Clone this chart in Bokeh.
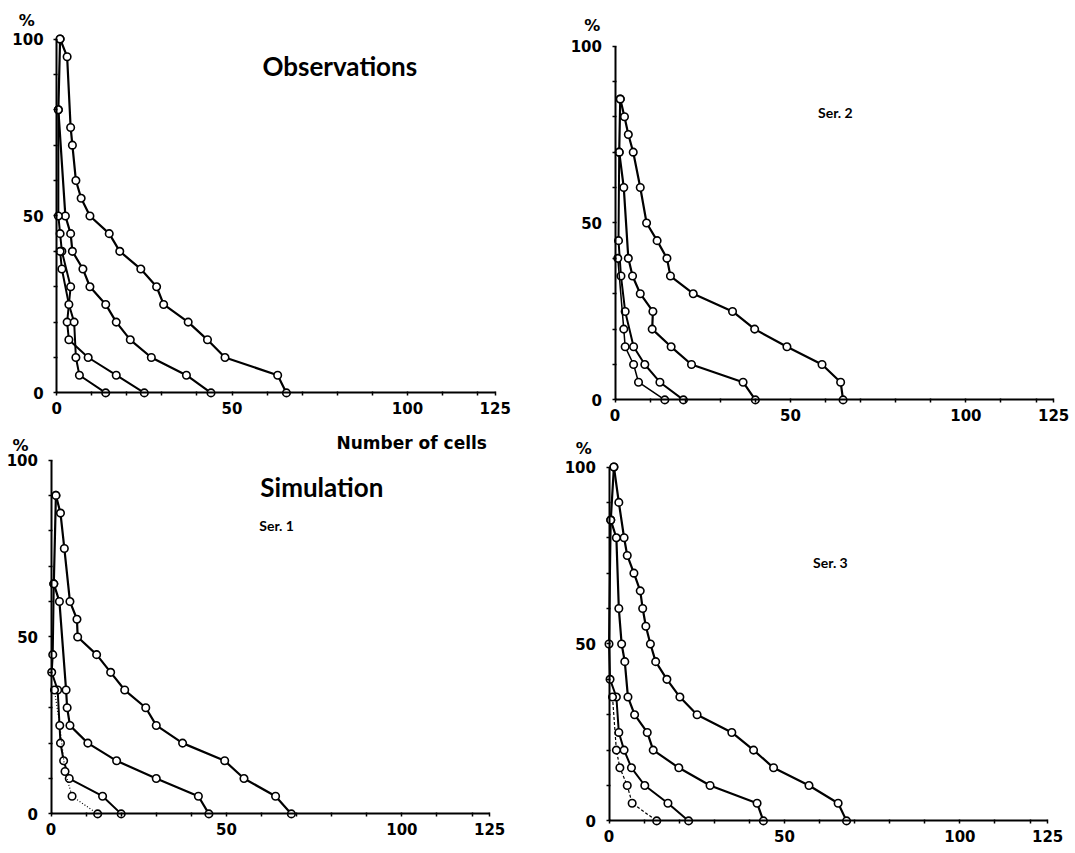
from bokeh.plotting import figure
from bokeh.layouts import column, row
from bokeh.models import Range1d, FixedTicker, Label
from bokeh.embed import file_html
from bokeh.resources import INLINE

# ---------------- data ----------------
X_TICKS = [0, 50, 100, 125]
X_MINOR = [10, 20, 30, 40, 60, 70, 80, 90, 110, 120]
Y_TICKS = [0, 50, 100]
Y_MINOR = [10, 20, 30, 40, 60, 70, 80, 90]

# Panel 1 : Observations
obs_a_x = [1, 3, 4, 4.5, 5.5, 7, 9.5, 15, 18, 24, 28.5, 30.5, 37.5, 43, 48, 63, 65.5]
obs_a_y = [100, 95, 75, 70, 60, 55, 50, 45, 40, 35, 30, 25, 20, 15, 10, 5, 0]
obs_b_x = [1, 0.5, 2.5, 4, 4.5, 7.5, 9.5, 14, 17, 21, 27, 37, 44]
obs_b_y = [100, 80, 50, 45, 40, 35, 30, 25, 20, 15, 10, 5, 0]
obs_c_x = [0.5, 0.5, 1, 1.5, 4, 3, 3.5, 9, 17, 25]
obs_c_y = [80, 50, 45, 40, 30, 20, 15, 10, 5, 0]
obs_d_x = [1, 1.5, 3.5, 5, 5.5, 6.5, 14]
obs_d_y = [40, 35, 25, 20, 10, 5, 0]

# Panel 2 : Ser. 2
s2_a_x = [1.5, 2.7, 3.8, 5.2, 7.2, 9, 12, 14.8, 15.8, 22.3, 33.5, 39.8, 49, 59, 64.3, 65]
s2_a_y = [85, 80, 75, 70, 60, 50, 45, 40, 35, 30, 25, 20, 15, 10, 5, 0]
s2_b_x = [1.5, 1.2, 2.5, 3.8, 5, 7.2, 10.8, 10.6, 16, 21.8, 36.5, 40]
s2_b_y = [85, 70, 60, 40, 35, 30, 25, 20, 15, 10, 5, 0]
s2_c_x = [1.2, 1, 1.7, 2.9, 5.3, 8.5, 12.8, 19.5]
s2_c_y = [70, 45, 35, 25, 15, 10, 5, 0]
s2_d_x = [0.8, 2.5, 2.9, 5.3, 6.7, 14.2]
s2_d_y = [40, 20, 15, 10, 5, 0]

# Panel 3 : Simulation, Ser. 1
s1_a_x = [1.4, 2.7, 3.8, 5.4, 7.4, 7.6, 13, 17, 21, 27, 30, 37.5, 49.5, 55, 64, 68.5]
s1_a_y = [90, 85, 75, 60, 55, 50, 45, 40, 35, 30, 25, 20, 15, 10, 5, 0]
s1_b_x = [1.4, 0.8, 2.4, 4.3, 4.6, 5.4, 10.5, 18.7, 30, 42, 45]
s1_b_y = [90, 65, 60, 35, 30, 25, 20, 15, 10, 5, 0]
s1_c_x = [0.8, 0.5, 0.2, 1.9, 2.7, 3.6, 5.2, 14.7, 20]
s1_c_y = [65, 45, 40, 35, 20, 15, 10, 5, 0]
s1_d_x = [1, 2.5, 4, 6, 13.3]
s1_d_y = [35, 25, 12, 5, 0]

# Panel 4 : Ser. 3
s3_a_x = [1.4, 2.8, 4.3, 5.2, 7.1, 8.9, 9.6, 10.5, 11.8, 13.3, 16.5, 20.2, 25.1, 35, 41.2, 46.9, 57, 65.3, 67.7]
s3_a_y = [100, 90, 80, 75, 70, 65, 60, 55, 50, 45, 40, 35, 30, 25, 20, 15, 10, 5, 0]
s3_b_x = [1.4, 0.5, 2.1, 2.8, 3.6, 4.5, 5.4, 7.3, 10.9, 12.6, 19.9, 28.8, 42.2, 44]
s3_b_y = [100, 85, 80, 60, 50, 45, 35, 30, 25, 20, 15, 10, 5, 0]
s3_c_x = [0.5, 0, 0.3, 2.1, 2.8, 4.3, 6.4, 10.2, 16.8, 22.7]
s3_c_y = [85, 50, 40, 35, 25, 20, 15, 10, 5, 0]
s3_d_x = [1, 2.1, 3.1, 5.2, 6.6, 13.6]
s3_d_y = [35, 20, 15, 10, 5, 0]

# ---------------- layout (pixels) ----------------
SX = 3.509   # px per x unit
SY = 3.539   # px per y unit
COL_SPLIT = 560
TOTAL_W = 1072
ROW_SPLIT = 428
TOTAL_H = 850

TXT_FONT = "Lato"
NUM_FONT = "DejaVu Sans"


def make_panel(curves, box, origin, pct_pos, texts):
    # box = (left, top, right, bottom) in page px; origin = page px of (0, 0)
    bl, bt, br, bb = box
    ox, oy = origin
    xr = Range1d((bl - ox) / SX, (br - ox) / SX)
    yr = Range1d((oy - bb) / SY, (oy - bt) / SY)
    p = figure(x_range=xr, y_range=yr,
               frame_width=br - bl, frame_height=bb - bt,
               min_border=0,
               output_backend="svg", toolbar_location=None,
               background_fill_color="white", border_fill_color="white")
    p.outline_line_color = None
    p.grid.visible = False

    for ax in (p.xaxis[0], p.yaxis[0]):
        ax.fixed_location = 0
        ax.axis_line_width = 2
        ax.axis_line_color = "black"
        ax.major_tick_line_width = 1.5
        ax.minor_tick_line_width = 1.5
        ax.major_tick_line_color = "black"
        ax.minor_tick_line_color = "black"
        ax.major_tick_out = 3
        ax.major_tick_in = 1
        ax.minor_tick_out = 3
        ax.minor_tick_in = 1
        ax.major_label_text_font = NUM_FONT
        ax.major_label_text_font_style = "bold"
        ax.major_label_text_font_size = "15px"
        ax.major_label_text_color = "black"

    p.xaxis[0].bounds = (0, 125)
    p.yaxis[0].bounds = (0, 100)
    p.xaxis[0].ticker = FixedTicker(ticks=X_TICKS, minor_ticks=X_MINOR)
    p.yaxis[0].ticker = FixedTicker(ticks=Y_TICKS, minor_ticks=Y_MINOR)
    p.xaxis[0].major_label_standoff = 6
    p.yaxis[0].major_label_standoff = 10

    for xs, ys, dash, lw in curves:
        p.line(xs, ys, line_color="black", line_width=lw, line_dash=dash)
        p.scatter(xs, ys, marker="circle", size=7.5, fill_color="white",
                  line_color="black", line_width=1.6)

    p.add_layout(Label(x=pct_pos[0], y=pct_pos[1], text="%",
                       text_font=NUM_FONT, text_font_style="bold",
                       text_font_size="16px", text_align="center",
                       text_baseline="middle", text_color="black"))
    for tx, ty, t, font, size in texts:
        p.add_layout(Label(x=tx, y=ty, text=t, text_font=font,
                           text_font_style="bold", text_font_size=size,
                           text_align="center", text_baseline="middle",
                           text_color="black"))
    return p


p1 = make_panel(
    [(obs_a_x, obs_a_y, "solid", 2.2), (obs_b_x, obs_b_y, "solid", 2.2),
     (obs_c_x, obs_c_y, "solid", 2), (obs_d_x, obs_d_y, "solid", 2)],
    (0, 0, COL_SPLIT, ROW_SPLIT), (56.1, 392.4), (-8.5, 105.3),
    [(80.7, 92.5, "Observations", TXT_FONT, "26px")])

p2 = make_panel(
    [(s2_a_x, s2_a_y, "solid", 2.2), (s2_b_x, s2_b_y, "solid", 2.2),
     (s2_c_x, s2_c_y, "solid", 2), (s2_d_x, s2_d_y, "solid", 1.5)],
    (COL_SPLIT, 0, TOTAL_W, ROW_SPLIT), (614.5, 399.4), (-6.5, 105.8),
    [(62.8, 81.2, "Ser. 2", TXT_FONT, "14px")])

p3 = make_panel(
    [(s1_a_x, s1_a_y, "solid", 2.2), (s1_b_x, s1_b_y, "solid", 2.2),
     (s1_c_x, s1_c_y, "solid", 2), (s1_d_x, s1_d_y, "1 2", 1.2)],
    (0, ROW_SPLIT, COL_SPLIT, TOTAL_H), (50.5, 813.4), (-8.7, 104.1),
    [(77.2, 92.3, "Simulation", TXT_FONT, "26px"),
     (64.3, 81.5, "Ser. 1", TXT_FONT, "14px"),
     (102.8, 104.9, "Number of cells", NUM_FONT, "17px")])

p4 = make_panel(
    [(s3_a_x, s3_a_y, "solid", 2.2), (s3_b_x, s3_b_y, "solid", 2.2),
     (s3_c_x, s3_c_y, "solid", 2), (s3_d_x, s3_d_y, "3 2", 1.2)],
    (COL_SPLIT, ROW_SPLIT, TOTAL_W, TOTAL_H), (608.5, 820.4), (-7.2, 105.2),
    [(63.1, 73.1, "Ser. 3", TXT_FONT, "14px")])

layout = column(row(p1, p2), row(p3, p4))
open("out.html", "w").write(file_html(layout, INLINE))
